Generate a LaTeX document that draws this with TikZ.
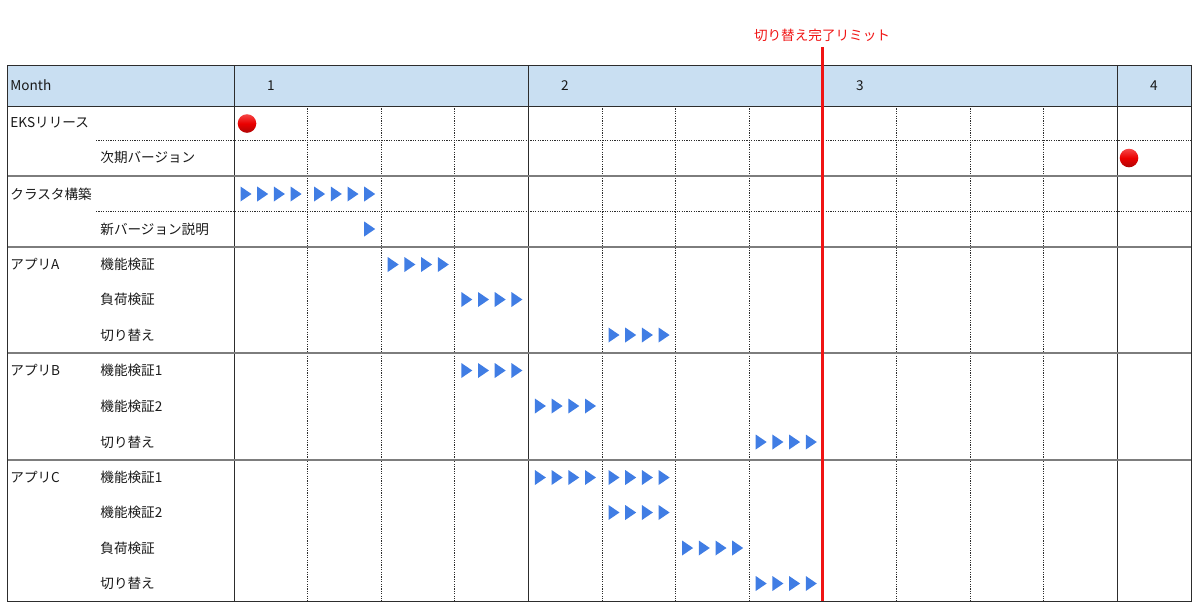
\documentclass[tikz,border=0pt]{standalone}
\usepackage{fontspec}
\setmainfont{Noto Sans CJK JP}
\definecolor{headblue}{RGB}{201,223,242}
\definecolor{taskblue}{RGB}{64,125,228}
\definecolor{gridgray}{RGB}{45,45,45}
\definecolor{groupgray}{RGB}{125,125,125}
\definecolor{limitred}{RGB}{240,20,20}
\definecolor{releasetop}{RGB}{245,70,70}
\definecolor{releasebot}{RGB}{175,5,5}
\tikzset{
  solidline/.style={draw=gridgray, line width=0.5pt},
  dotline/.style={draw=gridgray, line width=0.5pt, dash pattern=on 0.6pt off 0.6pt},
  groupline/.style={draw=groupgray, line width=0.8pt},
  release/.style={top color=releasetop, bottom color=releasebot, middle color=red!92!black},
  rowlabel/.style={anchor=west, inner sep=0pt, text=black!90, font=\fontsize{6.8}{8}\selectfont},
  monthlabel/.style={inner sep=0pt, text=black!90, font=\fontsize{6.8}{8}\selectfont},
}
\begin{document}
\begin{tikzpicture}[x=0.5pt, y=-0.5pt]
    \useasboundingbox (0,0) rectangle (1200,612);

    \fill[headblue] (7,65) rectangle (1191,106);

    \foreach \w in {2,3,4,6,7,8,10,11,12}
        \draw[dotline] ({234+73.6*(\w-1)},106) -- ({234+73.6*(\w-1)},601);
    \foreach \w in {1,5,9,13}
        \draw[solidline] ({234+73.6*(\w-1)},65) -- ({234+73.6*(\w-1)},601);

    \draw[dotline] (96,140) -- (1191,140);
    \draw[dotline] (96,211) -- (1191,211);
    \draw[solidline] (7,106) -- (1191,106);
    \draw[groupline, line width=1.3pt] (7,176) -- (1191,176);
    \foreach \y in {247,353,460}
        \draw[groupline] (7,\y) -- (1191,\y);
    \draw[solidline] (7,65) rectangle (1191,601);

    \coordinate (rel1) at (247,123.5);
    \coordinate (rel2) at (1129,158);
    \shade[release] (rel1) circle (9.3);
    \shade[release] (rel2) circle (9.3);

    \foreach \y/\w/\a/\b in {194/1/1/4, 194/2/1/4, 229/2/4/4, 264.5/3/1/4, 299.5/4/1/4,
        335/6/1/4, 370.5/4/1/4, 406/5/1/4, 442/8/1/4, 477.5/5/1/4, 477.5/6/1/4,
        512.5/6/1/4, 548/7/1/4, 583.5/8/1/4}
        \foreach \s in {\a,...,\b}
            \fill[taskblue] ({234+73.6*(\w-1)+6.5+16.7*(\s-1)},\y) ++(0,-7.5) -- ++(11,7.5) -- ++(-11,7.5) -- cycle;

    \node[rowlabel] (month) at (10,85.5) {Month};
    \node[monthlabel] (m1) at (271,85.5) {1};
    \node[monthlabel] (m2) at (565,85.5) {2};
    \node[monthlabel] (m3) at (860,85.5) {3};
    \node[monthlabel] (m4) at (1154,85.5) {4};

    \node[rowlabel] (eks) at (10,123) {EKSリリース};
    \node[rowlabel] (nextver) at (100,157.5) {次期バージョン};
    \node[rowlabel] (cluster) at (10,194) {クラスタ構築};
    \node[rowlabel] (newver) at (100,229) {新バージョン説明};

    \node[rowlabel] (appa) at (10,264.5) {アプリA};
    \node[rowlabel] (appa1) at (100,264.5) {機能検証};
    \node[rowlabel] (appa2) at (100,299.5) {負荷検証};
    \node[rowlabel] (appa3) at (100,335) {切り替え};

    \node[rowlabel] (appb) at (10,370.5) {アプリB};
    \node[rowlabel] (appb1) at (100,370.5) {機能検証1};
    \node[rowlabel] (appb2) at (100,406) {機能検証2};
    \node[rowlabel] (appb3) at (100,442) {切り替え};

    \node[rowlabel] (appc) at (10,477.5) {アプリC};
    \node[rowlabel] (appc1) at (100,477.5) {機能検証1};
    \node[rowlabel] (appc2) at (100,512.5) {機能検証2};
    \node[rowlabel] (appc3) at (100,548) {負荷検証};
    \node[rowlabel] (appc4) at (100,583.5) {切り替え};

    \node[monthlabel, text=limitred] (limit) at (822,35) {切り替え完了リミット};
    \coordinate (limtop) at (822,47);
    \coordinate (limbot) at (822,601);
    \draw[limitred, line width=1.5pt] (limtop) -- (limbot);
\end{tikzpicture}
\end{document}
